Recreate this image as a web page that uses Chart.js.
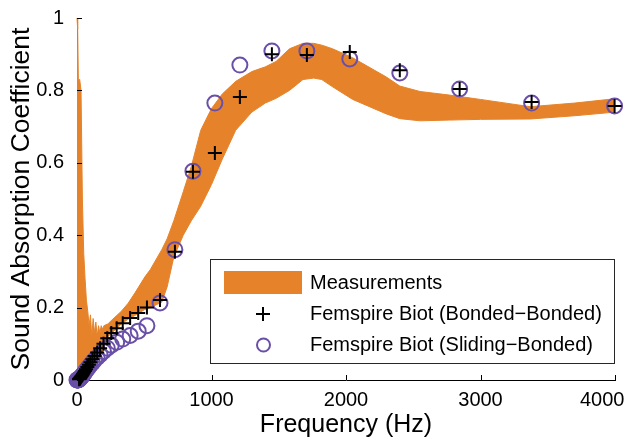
<!DOCTYPE html>
<html>
<head>
<meta charset="utf-8">
<script src="https://cdn.jsdelivr.net/npm/chart.js@4.4.0/dist/chart.umd.min.js"></script>
<style>
  html, body { margin: 0; padding: 0; background: #fff; }
</style>
</head>
<body>
<canvas id="absorptionChart" width="630" height="446"></canvas>
<script>
// measured band (upper and lower edge share the same frequencies)
const bandFreq  = [0, 5, 10, 20, 30, 40, 50, 60, 70, 80, 90, 100, 110, 120, 130, 140, 150, 160, 170, 180, 190, 200,
  230, 260, 330, 380, 430, 505, 545, 630, 670, 720, 790, 850, 920, 1000, 1080, 1180, 1300, 1400, 1480, 1580, 1680,
  1760, 1820, 1900, 2050, 2300, 2400, 2550, 2770, 3000, 3370, 3700, 4000];
const bandUpper = [1.00, 0.97, 0.83, 0.83, 0.80, 0.50, 0.35, 0.28, 0.22, 0.19, 0.15, 0.18, 0.12, 0.17, 0.13, 0.16, 0.12, 0.15, 0.13, 0.15, 0.14, 0.15,
  0.155, 0.166, 0.19, 0.212, 0.24, 0.285, 0.305, 0.36, 0.39, 0.44, 0.52, 0.59, 0.69, 0.75, 0.79, 0.825, 0.852, 0.865, 0.88, 0.915, 0.93,
  0.93, 0.925, 0.915, 0.89, 0.837, 0.812, 0.797, 0.787, 0.775, 0.755, 0.765, 0.777];
const bandLower = [0, 0, 0.002, 0.004, 0.006, 0.008, 0.010, 0.013, 0.016, 0.019, 0.022, 0.025, 0.029, 0.033, 0.040, 0.046, 0.052, 0.060, 0.066, 0.072, 0.080, 0.090,
  0.12, 0.13, 0.155, 0.168, 0.178, 0.195, 0.20, 0.215, 0.257, 0.34, 0.40, 0.44, 0.48, 0.54, 0.61, 0.69, 0.74, 0.765, 0.778, 0.80, 0.83,
  0.834, 0.83, 0.81, 0.775, 0.735, 0.722, 0.716, 0.718, 0.72, 0.721, 0.73, 0.74];

// Femspire Biot predictions
const modelFreq = [15, 18, 20, 23, 26, 30, 35, 40, 45, 52, 59, 67, 77, 88, 100, 115, 131, 150, 172, 197, 225, 255, 295, 340, 395, 455, 520,
  617, 728, 862, 1025, 1211, 1449, 1709, 2028, 2400, 2845, 3380, 3997];
const bondedAlpha = [0.002, 0.003, 0.004, 0.005, 0.007, 0.009, 0.011, 0.014, 0.017, 0.021, 0.025, 0.030, 0.036, 0.042, 0.049, 0.057, 0.066, 0.076, 0.088, 0.10, 0.115, 0.13, 0.143, 0.157, 0.171, 0.185, 0.20,
  0.221, 0.354, 0.575, 0.627, 0.782, 0.90, 0.898, 0.906, 0.856, 0.804, 0.768, 0.757];
const slidingAlpha = [0.002, 0.003, 0.004, 0.005, 0.006, 0.008, 0.010, 0.012, 0.015, 0.018, 0.022, 0.026, 0.031, 0.036, 0.042, 0.048, 0.055, 0.062, 0.070, 0.079, 0.088, 0.096, 0.104, 0.113, 0.123, 0.135, 0.15,
  0.213, 0.36, 0.577, 0.765, 0.87, 0.909, 0.909, 0.887, 0.848, 0.804, 0.765, 0.757];
const slidingLowFreq  = [0, 2, 4, 6, 8, 10, 12];
const slidingLowAlpha = [0, 0, 0, 0, 0, 0.001, 0.001];

const xTicks = [0, 1000, 2000, 3000, 4000];
const yTicks = [0, 0.2, 0.4, 0.6, 0.8, 1];

const ORANGE = "#e6832a";
const PURPLE = "#6a4fa8";
const FONT = '"Liberation Sans", Arial, sans-serif';

const pts = (xs, ys) => xs.map((x, i) => ({ x: x, y: ys[i] }));

// small inward tick marks like the original axes
const inwardTicks = {
  id: "inwardTicks",
  afterDraw(chart) {
    const { ctx, chartArea, scales } = chart;
    ctx.save();
    ctx.strokeStyle = "#000";
    ctx.lineWidth = 1;
    ctx.beginPath();
    scales.x.ticks.forEach(t => {
      const px = Math.round(scales.x.getPixelForValue(t.value)) + 0.5;
      ctx.moveTo(px, chartArea.bottom);
      ctx.lineTo(px, chartArea.bottom - 5);
    });
    scales.y.ticks.forEach(t => {
      const py = Math.round(scales.y.getPixelForValue(t.value)) + 0.5;
      ctx.moveTo(chartArea.left, py);
      ctx.lineTo(chartArea.left + 5, py);
    });
    ctx.stroke();
    ctx.restore();
  }
};

// boxed legend inside the plot
const boxLegend = {
  id: "boxLegend",
  afterDraw(chart) {
    const ctx = chart.ctx;
    const ds = chart.data.datasets;
    const band = ds.find(d => d.label === "Measurements");
    const bonded = ds.find(d => d.label === "Femspire Biot (Bonded\u2212Bonded)");
    const sliding = ds.find(d => d.label === "Femspire Biot (Sliding\u2212Bonded)");
    ctx.save();
    ctx.fillStyle = "#fff";
    ctx.fillRect(210, 259, 404, 104);
    ctx.strokeStyle = "#262626";
    ctx.lineWidth = 1;
    ctx.strokeRect(210.5, 259.5, 404, 104);

    ctx.font = "20px " + FONT;
    ctx.textBaseline = "middle";
    ctx.textAlign = "left";

    // row 1: swatch
    ctx.fillStyle = band.backgroundColor;
    ctx.fillRect(224, 271, 78, 23);
    ctx.fillStyle = "#000";
    ctx.fillText(band.label, 310, 283);

    // row 2: cross
    ctx.strokeStyle = bonded.borderColor;
    ctx.lineWidth = 2;
    ctx.beginPath();
    ctx.moveTo(256, 314); ctx.lineTo(270, 314);
    ctx.moveTo(263, 307); ctx.lineTo(263, 321);
    ctx.stroke();
    ctx.fillText(bonded.label, 310, 314);

    // row 3: circle
    ctx.strokeStyle = sliding.borderColor;
    ctx.beginPath();
    ctx.arc(263.5, 345, 6.5, 0, Math.PI * 2);
    ctx.stroke();
    ctx.fillText(sliding.label, 310, 345);
    ctx.restore();
  }
};

new Chart(document.getElementById("absorptionChart"), {
  type: "line",
  data: {
    datasets: [
      {
        label: "Femspire Biot (Bonded\u2212Bonded)",
        data: pts(modelFreq, bondedAlpha),
        showLine: false,
        pointStyle: "cross",
        pointRadius: 7,
        borderColor: "#000",
        borderWidth: 2,
        clip: false
      },
      {
        label: "Femspire Biot (Sliding\u2212Bonded)",
        data: pts(slidingLowFreq, slidingLowAlpha).concat(pts(modelFreq, slidingAlpha)),
        showLine: false,
        pointStyle: "circle",
        pointRadius: 7.5,
        borderColor: PURPLE,
        backgroundColor: "rgba(0,0,0,0)",
        borderWidth: 2,
        clip: false
      },
      {
        label: "Measurements",
        data: pts(bandFreq, bandUpper),
        borderColor: ORANGE,
        backgroundColor: ORANGE,
        borderWidth: 1,
        pointRadius: 0,
        tension: 0,
        fill: "+1",
        clip: false
      },
      {
        label: "Measurements lower",
        data: pts(bandFreq, bandLower),
        borderColor: ORANGE,
        borderWidth: 1,
        pointRadius: 0,
        tension: 0,
        fill: false,
        clip: false
      }
    ]
  },
  options: {
    responsive: false,
    animation: false,
    layout: { padding: { left: 0, right: 15, top: 18, bottom: 0 } },
    plugins: {
      legend: { display: false },
      tooltip: { enabled: false }
    },
    scales: {
      x: {
        type: "linear",
        min: 0,
        max: 4000,
        afterBuildTicks: s => { s.ticks = xTicks.map(v => ({ value: v })); },
        afterFit: s => { s.height = 66; s.paddingLeft = 0; s.paddingRight = 0; },
        grid: { display: false, drawTicks: false },
        border: { display: true, color: "#000", width: 1 },
        ticks: {
          color: "#000",
          font: { family: FONT, size: 20 },
          padding: 8,
          maxRotation: 0,
          // last label is pulled inside the figure like the original
          callback: v => v === 4000 ? "4000\u2002\u2002 " : String(v)
        },
        title: {
          display: true,
          text: "Frequency (Hz)",
          color: "#000",
          font: { family: FONT, size: 25 },
          padding: { top: 0, bottom: 6 }
        }
      },
      y: {
        type: "linear",
        min: 0,
        max: 1,
        afterBuildTicks: s => { s.ticks = yTicks.map(v => ({ value: v })); },
        afterFit: s => { s.width = 77; s.paddingTop = 0; s.paddingBottom = 0; },
        grid: { display: false, drawTicks: false },
        border: { display: true, color: "#000", width: 1 },
        ticks: {
          color: "#000",
          font: { family: FONT, size: 20 },
          padding: 13,
          callback: v => String(v)
        },
        title: {
          display: true,
          text: "Sound Absorption Coefficient",
          color: "#000",
          font: { family: FONT, size: 26.5 },
          padding: { top: 6, bottom: 0 }
        }
      }
    }
  },
  plugins: [inwardTicks, boxLegend]
});
</script>
</body>
</html>
